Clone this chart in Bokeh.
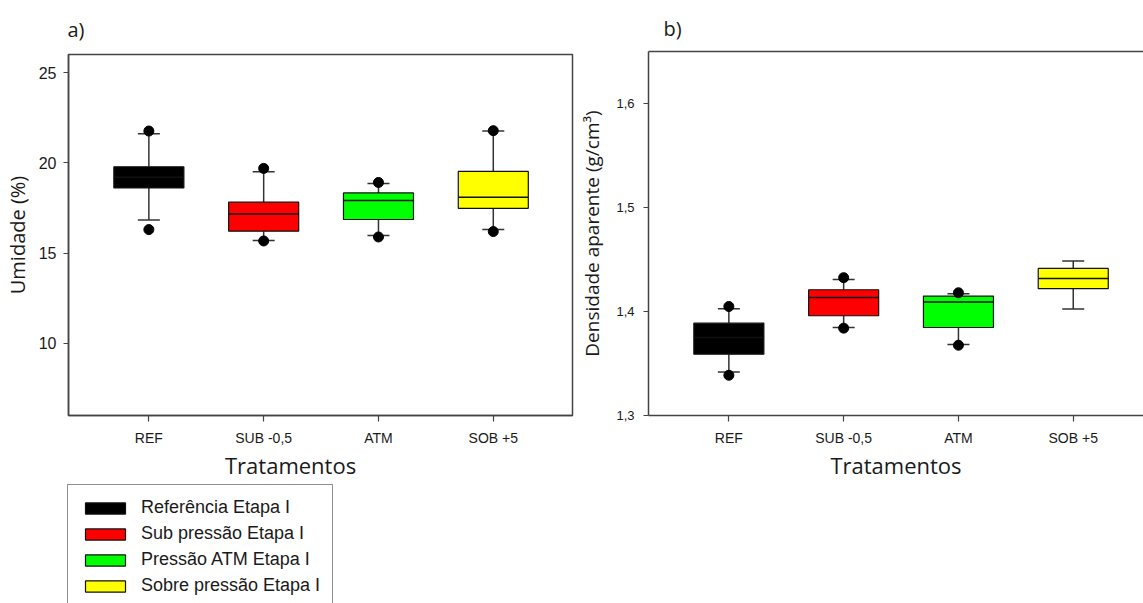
import math
from bokeh.plotting import figure
from bokeh.models import (ColumnDataSource, FixedTicker, Legend, LegendItem,
                          LinearAxis, Range1d)
from bokeh.layouts import row, column
from bokeh.embed import file_html
from bokeh.resources import INLINE

# ---------------- data ----------------
categories = ["REF", "SUB -0,5", "ATM", "SOB +5"]
legend_labels = ["Referência Etapa I", "Sub pressão Etapa I",
                 "Pressão ATM Etapa I", "Sobre pressão Etapa I"]
colors = ["#000000", "#FF0000", "#00FF00", "#FFFF00"]
positions = [1, 2, 3, 4]

# a) Umidade (%)
umid_q1 = [18.61, 16.21, 16.86, 17.48]
umid_med = [19.20, 17.17, 17.91, 18.09]
umid_q3 = [19.78, 17.82, 18.33, 19.52]
umid_low = [16.83, 15.69, 15.97, 16.30]
umid_high = [21.61, 19.50, 18.86, 21.76]
umid_out_low = [16.30, 15.67, 15.89, 16.19]
umid_out_high = [21.76, 19.69, 18.91, 21.78]
umid_ticks = [10, 15, 20, 25]

# b) Densidade aparente (g/cm3)
dens_q1 = [1.3590, 1.3959, 1.3846, 1.4219]
dens_med = [1.3750, 1.4135, 1.4091, 1.4318]
dens_q3 = [1.3888, 1.4209, 1.4148, 1.4414]
dens_low = [1.3419, 1.3846, 1.3682, 1.4023]
dens_high = [1.4026, 1.4308, 1.4170, 1.4486]
dens_out_low = [1.3387, 1.3840, 1.3676, float("nan")]
dens_out_high = [1.4048, 1.4325, 1.4180, float("nan")]
dens_ticks = [1.3, 1.4, 1.5, 1.6]
dens_tick_labels = ["1,3", "1,4", "1,5", "1,6"]

BOX_W = 0.61
TICK_FONT = "Liberation Sans"
TITLE_FONT = "Open Sans"
AX_COLOR = "#444444"
TXT_COLOR = "#1a1a1a"


def draw_boxes(p, q1, med, q3, low, high, out_low, out_high):
    src = ColumnDataSource(dict(
        x=positions, q1=q1, med=med, q3=q3, low=low, high=high,
        xl=[x - BOX_W / 2 for x in positions], xr=[x + BOX_W / 2 for x in positions],
        color=colors,
    ))
    p.segment(x0="x", y0="q3", x1="x", y1="high", source=src, line_color="#333333", line_width=1.5)
    p.segment(x0="x", y0="q1", x1="x", y1="low", source=src, line_color="#333333", line_width=1.5)
    p.scatter(x="x", y="high", source=src, marker="dash", size=22, line_color="#333333", line_width=1.5)
    p.scatter(x="x", y="low", source=src, marker="dash", size=22, line_color="#333333", line_width=1.5)
    boxes = p.vbar(x="x", width=BOX_W, bottom="q1", top="q3", source=src,
                   fill_color="color", line_color="#111111", line_width=1.2)
    p.segment(x0="xl", y0="med", x1="xr", y1="med", source=src, line_color="#111111", line_width=1.5)
    ox = [x for x, v in zip(positions, out_low) if not math.isnan(v)]
    oy = [v for v in out_low if not math.isnan(v)]
    ox2 = [x for x, v in zip(positions, out_high) if not math.isnan(v)]
    oy2 = [v for v in out_high if not math.isnan(v)]
    p.scatter(ox + ox2, oy + oy2, marker="circle", size=10, fill_color="black", line_color="black")
    return boxes


def style_axes(p, ytick_size):
    for ax in (p.xaxis[0], p.yaxis[0]):
        ax.axis_line_color = AX_COLOR
        ax.axis_line_width = 1.5
        ax.major_tick_line_color = AX_COLOR
        ax.major_tick_line_width = 1.2
        ax.major_tick_in = 0
        ax.minor_tick_line_color = None
        ax.major_label_text_font = TICK_FONT
        ax.major_label_text_color = TXT_COLOR
        ax.axis_label_text_font = TITLE_FONT
        ax.axis_label_text_font_style = "normal"
        ax.axis_label_text_color = TXT_COLOR
    p.xaxis.ticker = FixedTicker(ticks=positions)
    p.xaxis.major_label_overrides = {pos: c for pos, c in zip(positions, categories)}
    p.xaxis.major_label_text_font_size = "14px"
    p.xaxis.major_tick_out = 6
    p.xaxis.major_label_standoff = 8
    p.yaxis.major_tick_out = 5
    p.yaxis.major_label_text_font_size = ytick_size
    p.grid.visible = False


def style_title(p, text, offset, standoff):
    p.title.text = text
    p.title.align = "left"
    p.title.offset = offset
    p.title.standoff = standoff
    p.title.text_font = TITLE_FONT
    p.title.text_font_size = "20px"
    p.title.text_font_style = "normal"
    p.title.text_color = TXT_COLOR


# ---------------- panel a ----------------
pa = figure(frame_width=504, frame_height=361, output_backend="svg", toolbar_location=None,
            x_range=Range1d(0.3, 4.69), y_range=Range1d(6, 26),
            min_border_left=68, min_border_right=4, min_border_top=54, min_border_bottom=35)
pa.outline_line_color = AX_COLOR
pa.outline_line_width = 1.5
pa.border_fill_color = "white"

box_a = draw_boxes(pa, umid_q1, umid_med, umid_q3, umid_low, umid_high, umid_out_low, umid_out_high)
style_axes(pa, "16px")
pa.xaxis.axis_label = None
pa.yaxis.ticker = FixedTicker(ticks=umid_ticks)
pa.yaxis.major_label_standoff = 7
pa.yaxis.axis_label = "Umidade (%)"
pa.yaxis.axis_label_text_font_size = "20px"
pa.yaxis.axis_label_standoff = 5
style_title(pa, "a)", -1, 24)

# ---------------- strip under panel a: x title + legend ----------------
pleg = figure(frame_width=576, frame_height=153, output_backend="svg", toolbar_location=None,
              x_range=Range1d(100, 676), y_range=Range1d(100, 253),
              x_axis_type=None, y_axis_type=None, min_border=0)
pleg.outline_line_color = None
pleg.grid.visible = False
pleg.border_fill_color = "white"
# swatch renderers for the legend (their data lie outside this strip's ranges)
leg_boxes = pleg.vbar(x=positions, width=BOX_W, bottom=umid_q1, top=umid_q3,
                      fill_color=colors, line_color="#111111", line_width=1.2)
leg_none = pleg.scatter(x=positions[:1], y=umid_q1[:1], size=1, alpha=0)

xtitle = Legend(
    items=[LegendItem(label="Tratamentos", renderers=[leg_none])],
    location=(225, 123), orientation="vertical", glyph_width=0, glyph_height=30,
    label_height=30, label_standoff=0, padding=0, margin=0, spacing=0,
    label_text_font=TITLE_FONT, label_text_font_size="22px", label_text_color=TXT_COLOR,
    border_line_color=None, background_fill_alpha=0.0)
pleg.add_layout(xtitle)

legend = Legend(
    items=[LegendItem(label=legend_labels[i], renderers=[leg_boxes], index=i) for i in range(4)],
    location=(67, -6), orientation="vertical", glyph_width=50, glyph_height=14,
    label_height=21, spacing=5, padding=12, margin=0, label_standoff=11,
    label_text_font=TICK_FONT, label_text_font_size="18px", label_text_color=TXT_COLOR,
    border_line_color="#222222", border_line_width=1.2, background_fill_color="white",
    background_fill_alpha=1.0)
pleg.add_layout(legend)

# ---------------- panel b ----------------
pb = figure(frame_width=495, frame_height=364, output_backend="svg", toolbar_location=None,
            x_range=Range1d(0.3, 4.612), y_range=Range1d(1.3, 1.65),
            min_border_left=72, min_border_right=0, min_border_top=51, min_border_bottom=188)
pb.outline_line_color = None
pb.border_fill_color = "white"

draw_boxes(pb, dens_q1, dens_med, dens_q3, dens_low, dens_high, dens_out_low, dens_out_high)
style_axes(pb, "13px")
pb.yaxis.ticker = FixedTicker(ticks=dens_ticks)
pb.yaxis.major_label_overrides = {t: s for t, s in zip(dens_ticks, dens_tick_labels)}
pb.yaxis.major_label_standoff = 9
pb.yaxis.axis_label = "Densidade aparente (g/cm³)"
pb.yaxis.axis_label_text_font_size = "19px"
pb.yaxis.axis_label_standoff = 8
pb.xaxis.axis_label = "Tratamentos"
pb.xaxis.axis_label_text_font_size = "22px"
pb.xaxis.axis_label_standoff = 1
style_title(pb, "b)", 15, 20)

top_ax = LinearAxis(ticker=FixedTicker(ticks=[]), axis_line_color=AX_COLOR, axis_line_width=1.5,
                    major_tick_line_color=None, minor_tick_line_color=None,
                    major_tick_out=0, major_label_standoff=0,
                    major_label_text_font_size="0px")
pb.add_layout(top_ax, "above")

layout = row(column(pa, pleg), pb)
open("out.html", "w").write(file_html(layout, INLINE))
